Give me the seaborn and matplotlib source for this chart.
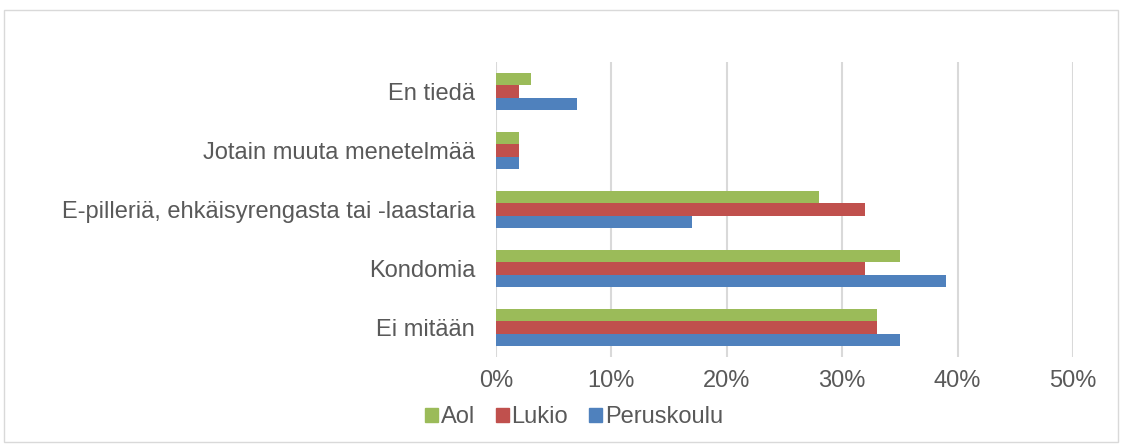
import pandas as pd
import matplotlib.pyplot as plt
import seaborn as sns
from matplotlib.patches import Rectangle

categories = ["En tiedä", "Jotain muuta menetelmää", "E-pilleriä, ehkäisyrengasta tai -laastaria",
              "Kondomia", "Ei mitään"]
groups = ["Aol", "Lukio", "Peruskoulu"]
aol = [0.03, 0.02, 0.28, 0.35, 0.33]
lukio = [0.02, 0.02, 0.32, 0.32, 0.33]
peruskoulu = [0.07, 0.02, 0.17, 0.39, 0.35]
colors = ["#9BBB59", "#C0504D", "#4F81BD"]

rows = []
for g, vals in zip(groups, [aol, lukio, peruskoulu]):
    for c, v in zip(categories, vals):
        rows.append({"Kategoria": c, "Ryhmä": g, "Osuus": v})
df = pd.DataFrame(rows)

sns.set_style("white")
plt.rcParams["font.family"] = ["Liberation Sans", "DejaVu Sans"]

fig = plt.figure(figsize=(11.24, 4.48), dpi=100)
ax = fig.add_axes([496 / 1124, 1 - 357 / 448, 577 / 1124, 295 / 448])

sns.barplot(data=df, x="Osuus", y="Kategoria", hue="Ryhmä", order=categories,
            hue_order=groups, palette=colors, orient="h", width=0.63,
            linewidth=0, saturation=1, ax=ax, legend=False)

ax.set_xlim(0, 0.5)
ax.set_xticks([0, 0.1, 0.2, 0.3, 0.4, 0.5])
ax.set_xticklabels(["0%", "10%", "20%", "30%", "40%", "50%"])
ax.xaxis.grid(True, color="#D9D9D9", linewidth=1.5)
ax.set_axisbelow(True)
for s in ax.spines.values():
    s.set_visible(False)
ax.set_xlabel("")
ax.set_ylabel("")
ax.tick_params(axis="both", length=0, labelsize=17, labelcolor="#595959")
ax.tick_params(axis="x", pad=9)
ax.tick_params(axis="y", pad=15)

handles = [Rectangle((0, 0), 1, 1, color=c) for c in colors]
fig.legend(handles, groups, loc="center", bbox_to_anchor=(574 / 1124, 1 - 417 / 448),
           ncol=3, frameon=False, fontsize=17, handlelength=0.55, handleheight=0.55,
           handletextpad=0.1, columnspacing=0.9, labelcolor="#595959")

fig.patches.append(Rectangle((4 / 1124, 6 / 448), 1114 / 1124, 432 / 448, transform=fig.transFigure,
                             fill=False, edgecolor="#D9D9D9", linewidth=1))

fig.savefig("out.png", dpi=100)
